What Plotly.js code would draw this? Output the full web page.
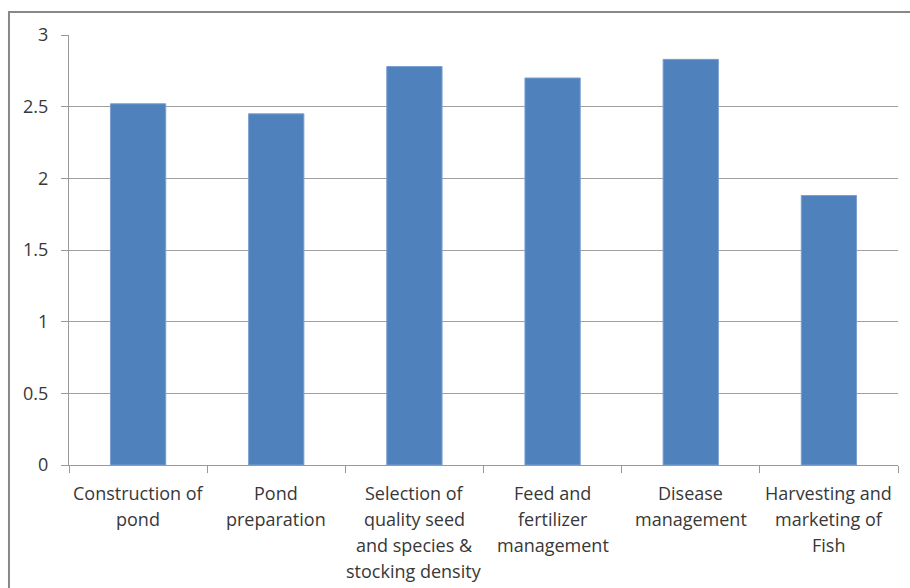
<!DOCTYPE html>
<html>
<head>
<meta charset="utf-8">
<script src="https://cdn.plot.ly/plotly-3.0.1.min.js"></script>
<style>html,body{margin:0;padding:0;background:#fff;}#chart{width:910px;height:588px;}</style>
</head>
<body>
<div id="chart"></div>
<script>
const categories = [
  "Construction of<br>pond",
  "Pond<br>preparation",
  "Selection of<br>quality seed<br>and species &<br>stocking density",
  "Feed and<br>fertilizer<br>management",
  "Disease<br>management",
  "Harvesting and<br>marketing of<br>Fish"
];
const values = [2.52, 2.45, 2.78, 2.70, 2.83, 1.88];
const yTicks = [0, 0.5, 1, 1.5, 2, 2.5, 3];
const yTickLabels = ["0", "0.5", "1", "1.5", "2", "2.5", "3"];

const FONT = '"Open Sans", Lato, sans-serif';
const TXT = '#383838';

const trace = {
  type: 'bar',
  x: categories,
  y: values,
  marker: {color: '#4F81BD', line: {color: '#7A9FD0', width: 1}},
  hoverinfo: 'none'
};

// category labels drawn line by line, anchored to the category axis
const annotations = [];
categories.forEach(function (cat) {
  cat.split('<br>').forEach(function (line, i) {
    annotations.push({
      xref: 'x', yref: 'y', x: cat, y: 0,
      text: line, showarrow: false,
      xanchor: 'center', yanchor: 'middle',
      yshift: -28 - 26 * i,
      font: {family: FONT, size: 18, color: TXT}
    });
  });
});

const layout = {
  width: 910, height: 588,
  margin: {l: 69, r: 12, t: 35, b: 123},
  paper_bgcolor: '#fff', plot_bgcolor: '#fff',
  bargap: 0.6,
  showlegend: false,
  font: {family: FONT, size: 18, color: TXT},
  xaxis: {
    type: 'category',
    showgrid: false,
    showline: true, linecolor: '#999', linewidth: 1,
    ticks: 'outside', ticklen: 7, tickcolor: '#999', tickson: 'boundaries',
    showticklabels: false
  },
  yaxis: {
    range: [0, 3],
    tickvals: yTicks, ticktext: yTickLabels,
    showgrid: true, gridcolor: '#a0a0a0', gridwidth: 1,
    showline: true, linecolor: '#999', linewidth: 1,
    ticks: 'outside', ticklen: 7, tickcolor: '#999',
    ticklabelstandoff: 9,
    zeroline: false,
    tickfont: {family: FONT, size: 18, color: TXT}
  },
  annotations: annotations,
  shapes: [{
    type: 'rect', xref: 'paper', yref: 'paper',
    x0: -0.0724, x1: 1.1, y0: -0.5, y1: 1.0535,
    line: {color: '#888', width: 2}
  }]
};

Plotly.newPlot('chart', [trace], layout, {displayModeBar: false, staticPlot: true});
</script>
</body>
</html>
